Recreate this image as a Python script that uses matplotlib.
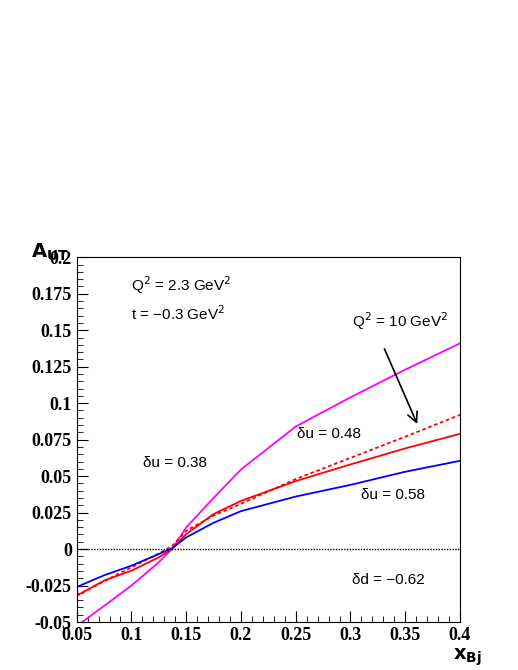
import matplotlib
matplotlib.use("Agg")
import matplotlib.pyplot as plt
from matplotlib.ticker import MultipleLocator

x_vals = [0.05, 0.075, 0.1, 0.125, 0.137, 0.15, 0.175, 0.2, 0.25, 0.3, 0.35, 0.4]
magenta_x = [0.055, 0.075, 0.1, 0.125, 0.137, 0.15, 0.175, 0.2, 0.25, 0.3, 0.35, 0.4]
magenta = [-0.05, -0.039, -0.025, -0.009, 0.0, 0.0148, 0.035, 0.0545, 0.084, 0.104, 0.123, 0.141]
red_solid = [-0.032, -0.0216, -0.0148, -0.0057, 0.0, 0.0102, 0.024, 0.033, 0.0466, 0.058, 0.069, 0.079]
red_dotted = [-0.032, -0.022, -0.0125, -0.003, 0.002, 0.0125, 0.023, 0.031, 0.048, 0.0625, 0.077, 0.092]
blue = [-0.026, -0.018, -0.0114, -0.0034, 0.0005, 0.008, 0.018, 0.026, 0.036, 0.044, 0.053, 0.0605]

fig = plt.figure(figsize=(5.18, 6.70), dpi=100)
ax = fig.add_axes([0.148, 0.0716, 0.740, 0.5444])
ax.plot(magenta_x, magenta, color="#ff00ff", lw=1.3)
ax.plot(x_vals, red_solid, color="#ff0000", lw=1.3)
ax.plot(x_vals, red_dotted, color="#ff0000", lw=1.3, ls=(0, (2, 1.5)))
ax.plot(x_vals, blue, color="#0000ff", lw=1.3)
ax.axhline(0, color="black", lw=1, ls=(0, (1, 1)))
ax.set_xlim(0.05, 0.4)
ax.set_ylim(-0.05, 0.2)
ax.xaxis.set_major_locator(MultipleLocator(0.05))
ax.xaxis.set_minor_locator(MultipleLocator(0.01))
ax.yaxis.set_major_locator(MultipleLocator(0.025))
ax.yaxis.set_minor_locator(MultipleLocator(0.005))
ax.tick_params(which="both", direction="in", right=False, top=False)
ax.tick_params(which="major", length=8)
ax.tick_params(which="minor", length=4)
ax.set_xticklabels([f"{v:g}" for v in ax.get_xticks()])
ax.set_yticklabels([f"{v:g}" for v in ax.get_yticks()])
for lab in ax.get_xticklabels() + ax.get_yticklabels():
    lab.set_fontfamily("Liberation Serif"); lab.set_fontweight("bold"); lab.set_fontsize(13)

fig.text(0.06, 0.615, r"$\mathbf{A_{UT}}$", fontsize=14, family="Liberation Serif")
fig.text(0.875, 0.015, r"$\mathbf{x_{Bj}}$", fontsize=14, family="Liberation Serif")

tk = dict(fontsize=11, family="Liberation Sans")
ax.text(0.10, 0.177, "Q$^{2}$ = 2.3 GeV$^{2}$", **tk)
ax.text(0.10, 0.157, "t = \u22120.3 GeV$^{2}$", **tk)
ax.text(0.301, 0.152, "Q$^{2}$ = 10 GeV$^{2}$", **tk)
ax.text(0.251, 0.076, "\u03b4u = 0.48", **tk)
ax.text(0.111, 0.056, "\u03b4u = 0.38", **tk)
ax.text(0.31, 0.034, "\u03b4u = 0.58", **tk)
ax.text(0.301, -0.024, "\u03b4d = \u22120.62", **tk)
ax.annotate("", xy=(0.362, 0.084), xytext=(0.33, 0.139),
            arrowprops=dict(arrowstyle="->", color="black", lw=1.2, mutation_scale=18))
fig.savefig("out.png", dpi=100)
